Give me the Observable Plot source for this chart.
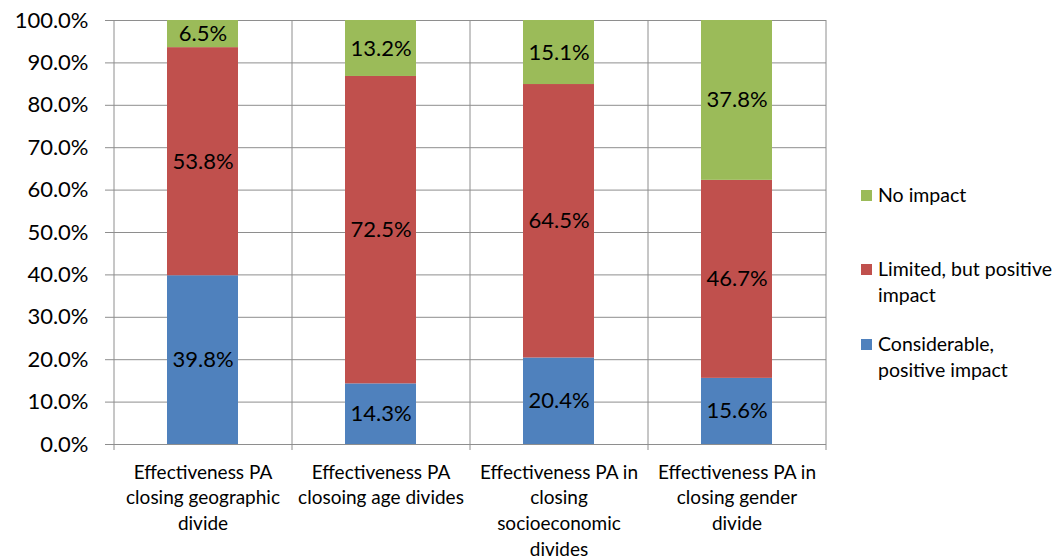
<!DOCTYPE html>
<html>
<head>
<meta charset="utf-8">
<script src="https://cdn.jsdelivr.net/npm/d3@7"></script>
<script src="https://cdn.jsdelivr.net/npm/@observablehq/plot@0.6"></script>
<style>
  html, body { margin: 0; padding: 0; background: #fff; }
  #wrap { position: relative; width: 1057px; height: 559px; font-family: Lato, "Open Sans", sans-serif; }
  #legend { position: absolute; left: 861px; top: 0; font-size: 19.5px; color: #000; }
  .item { position: absolute; left: 0; white-space: nowrap; line-height: 26px; }
  .sw { position: absolute; left: 0; top: 8px; width: 11px; height: 11px; }
  .lab { position: absolute; left: 17px; top: 0; }
</style>
</head>
<body>
<div id="wrap"><div id="legend"></div></div>
<script>
const categories = ["Geographic", "Age", "Socioeconomic", "Gender"];
const xLabels = [
  "Effectiveness PA\nclosing geographic\ndivide",
  "Effectiveness PA\nclosoing age divides",
  "Effectiveness PA in\nclosing\nsocioeconomic\ndivides",
  "Effectiveness PA in\nclosing gender\ndivide"
];
const series = ["Considerable, positive impact", "Limited, but positive impact", "No impact"];
const considerable = [39.8, 14.3, 20.4, 15.6];
const limited = [53.8, 72.5, 64.5, 46.7];
const noImpact = [6.5, 13.2, 15.1, 37.8];
const colors = ["#4F81BD", "#C0504D", "#9BBB59"];
const yTicks = [0, 10, 20, 30, 40, 50, 60, 70, 80, 90, 100];
const legendOrder = ["No impact", "Limited, but positive impact", "Considerable, positive impact"];
const legendLines = {
  "No impact": ["No impact"],
  "Limited, but positive impact": ["Limited, but positive", "impact"],
  "Considerable, positive impact": ["Considerable,", "positive impact"]
};
const legendTops = [182, 256, 331];

const valuesBySeries = [considerable, limited, noImpact];
const data = [];
series.forEach((s, si) => categories.forEach((c, ci) => data.push({category: c, series: s, value: valuesBySeries[si][ci]})));

const W = 1057, H = 559, mL = 114, mR = 231, mT = 20, mB = 115;
const step = (W - mL - mR) / categories.length;
const gridColor = "#8e8e8e";

const chart = Plot.plot({
  width: W, height: H,
  marginLeft: mL, marginRight: mR, marginTop: mT, marginBottom: mB,
  style: {fontFamily: "Lato, 'Open Sans', sans-serif", color: "#000", background: "#fff", overflow: "visible"},
  x: {domain: categories, paddingInner: 0.6, paddingOuter: 0.3, align: 0.5, axis: null},
  y: {domain: [0, 100], clamp: true, axis: null},
  color: {domain: series, range: colors},
  marks: [
    Plot.ruleY(yTicks, {stroke: gridColor, strokeWidth: 1}),
    Plot.ruleX(categories, {stroke: gridColor, dx: -step / 2, insetBottom: -6}),
    Plot.ruleX(categories.slice(-1), {stroke: gridColor, dx: step / 2, insetBottom: -6}),
    Plot.barY(data, {x: "category", y: "value", fill: "series", z: "series"}),
    Plot.text(data, Plot.stackY({x: "category", y: "value", z: "series", text: d => d.value.toFixed(1) + "%", fontSize: 22, fill: "#000"})),
    Plot.axisY({ticks: yTicks, tickSize: 9, tickPadding: 17, tickFormat: d => d.toFixed(1) + "%", fontSize: 22, fill: "#000", stroke: gridColor, label: null}),
    Plot.axisX({tickSize: 0, tickPadding: 16, tickFormat: (d, i) => xLabels[categories.indexOf(d)], fontSize: 19, lineHeight: 1.35, fill: "#000", label: null})
  ]
});
const wrap = document.getElementById("wrap");
wrap.insertBefore(chart, wrap.firstChild);

const legend = document.getElementById("legend");
legendOrder.forEach((s, i) => {
  const item = document.createElement("div");
  item.className = "item";
  item.style.top = legendTops[i] + "px";
  const sw = document.createElement("div");
  sw.className = "sw";
  sw.style.background = colors[series.indexOf(s)];
  const lab = document.createElement("div");
  lab.className = "lab";
  lab.innerHTML = legendLines[s].join("<br>");
  item.appendChild(sw); item.appendChild(lab);
  legend.appendChild(item);
});
</script>
</body>
</html>
